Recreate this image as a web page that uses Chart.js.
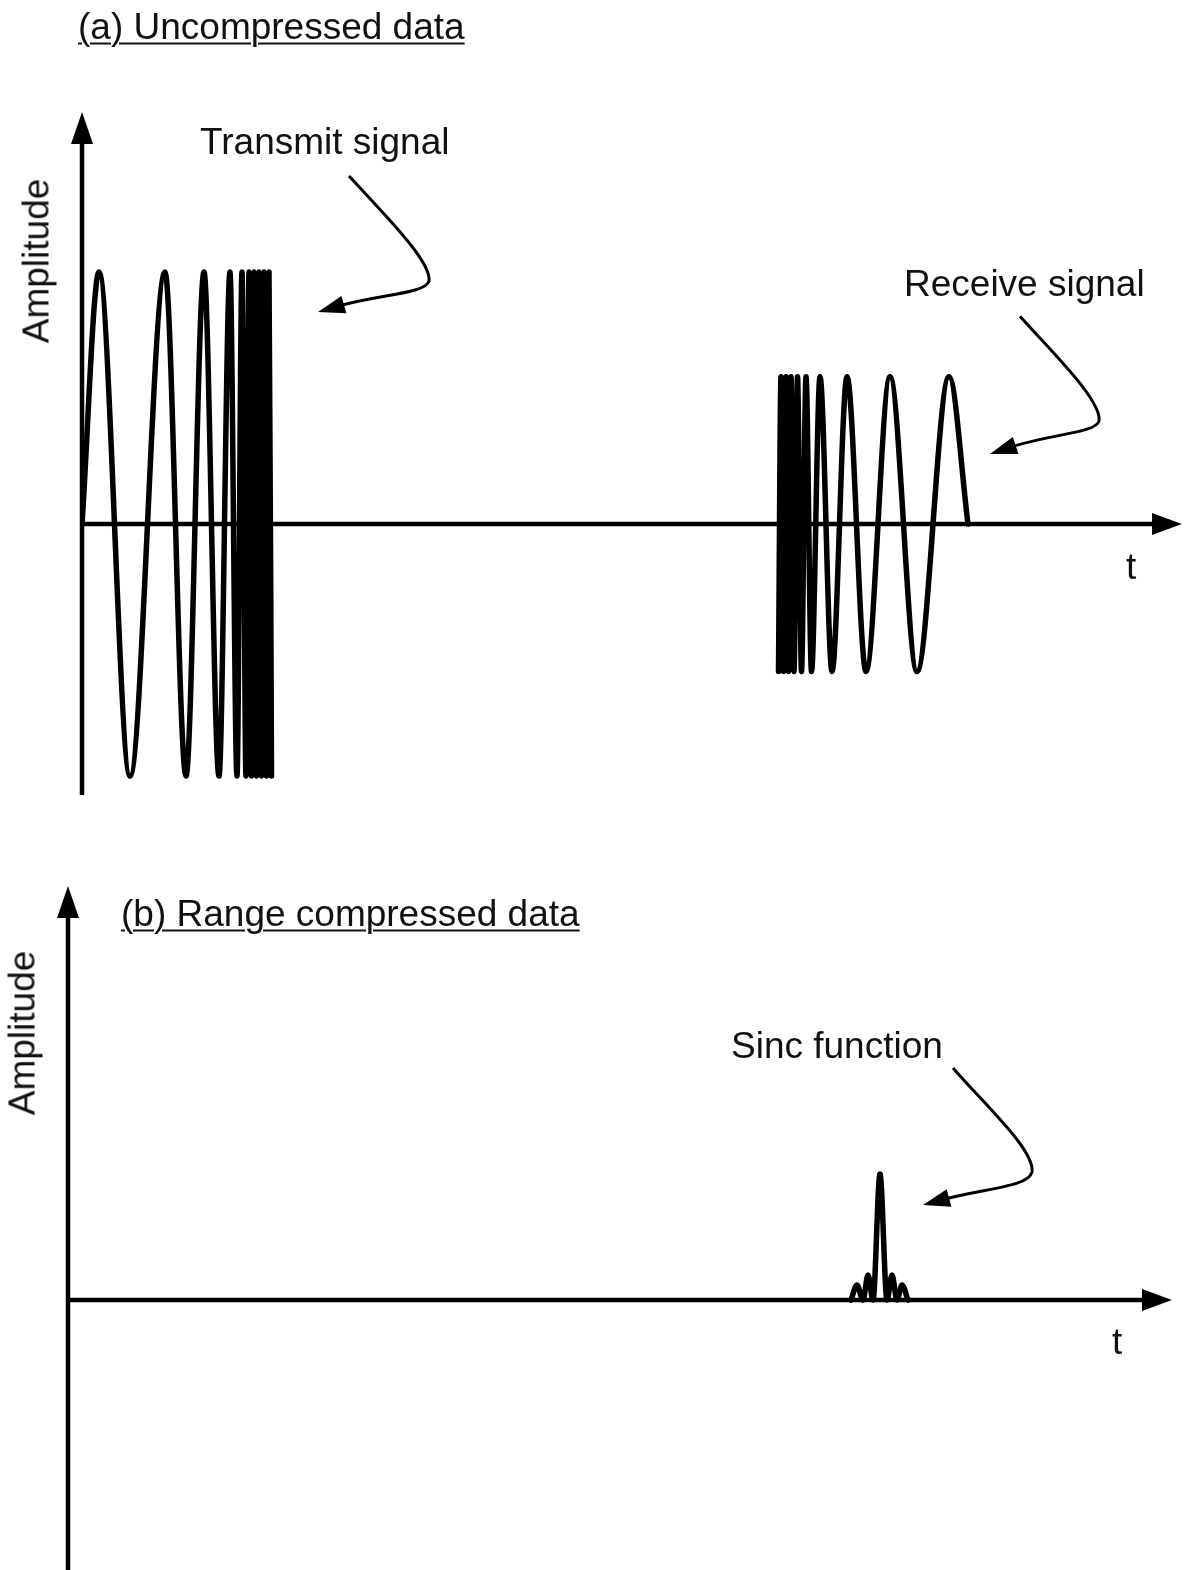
<!DOCTYPE html>
<html>
<head>
<meta charset="utf-8">
<script src="https://cdn.jsdelivr.net/npm/chart.js@4.4.1/dist/chart.umd.min.js"></script>
<style>
  html, body { margin: 0; padding: 0; background: #fff; }
  body { width: 1188px; height: 1570px; position: relative; overflow: hidden;
         font-family: "Liberation Sans", Arial, sans-serif; color: #111; }
  canvas { position: absolute; left: 0; }
  #chartA { top: 0; }
  #chartB { top: 850px; }
  .lbl { position: absolute; font-size: 37px; line-height: 1; white-space: nowrap; transform: translateY(-50%); }
  .title { text-decoration: underline; text-decoration-thickness: 2px; text-underline-offset: 4px; }
  .ylab { transform: translate(-50%, -50%) rotate(-90deg); }
</style>
</head>
<body>
<canvas id="chartA" width="1188" height="830"></canvas>
<canvas id="chartB" width="1188" height="720"></canvas>

<div class="lbl title" style="left:78px; top:26px;">(a) Uncompressed data</div>
<div class="lbl ylab" style="left:36px; top:261px;">Amplitude</div>
<div class="lbl" style="left:200px; top:141px;">Transmit signal</div>
<div class="lbl" style="left:904px; top:283px;">Receive signal</div>
<div class="lbl" style="left:1126px; top:566px;">t</div>

<div class="lbl title" style="left:121px; top:913px;">(b) Range compressed data</div>
<div class="lbl ylab" style="left:22px; top:1033px;">Amplitude</div>
<div class="lbl" style="left:731px; top:1045px;">Sinc function</div>
<div class="lbl" style="left:1112px; top:1341px;">t</div>

<script>
// chirp extrema (t, amplitude); t = 0 at the vertical axis
const transmitT = [0, 17, 48, 83, 104, 122, 137, 148, 155, 160, 164, 167, 169.5, 172, 174.5, 177, 179.5, 182, 184.5, 187, 189.5];
const transmitA = [0, 1, -1, 1, -1, 1, -1, 1, -1, 1, -1, 1, -1, 1, -1, 1, -1, 1, -1, 1, -1];

// echo: reversed chirp, smaller amplitude
const receiveT = [696.5, 699, 701.5, 704, 706.5, 709, 712, 715.5, 719.5, 724, 729.5, 738, 750, 765, 784, 808, 835, 867, 886];
const receiveA = [-0.585, 0.585, -0.585, 0.585, -0.585, 0.585, -0.585, 0.585, -0.585, 0.585, -0.585, 0.585, -0.585, 0.585, -0.585, 0.585, -0.585, 0.585, 0];

// compressed pulse: |sinc| lobes
const sincT = [783, 789, 795, 800, 805, 812, 819, 824, 829, 834, 840];
const sincA = [0, 0.06, 0, 0.1, 0, 0.5, 0, 0.1, 0, 0.06, 0];

// callout arrows: start, c1, c2, bend, c3, c4, tip  (t, amplitude)
const transmitCallout = [[267, 1.381], [303, 1.226], [350, 1.040], [347, 0.964], [343, 0.913], [298, 0.913], [236, 0.841]];
const receiveCallout = [[938, 0.825], [968, 0.690], [1020, 0.492], [1017, 0.409], [1014, 0.361], [968, 0.357], [908, 0.278]];
const sincCallout = [[885, 0.921], [917, 0.774], [967, 0.595], [964, 0.508], [960, 0.448], [917, 0.444], [855, 0.377]];

const toPoints = (ts, as) => ts.map((t, i) => ({ x: t, y: as[i] }));

function head(ctx, tipX, tipY, fromX, fromY, len, half) {
  const ang = Math.atan2(tipY - fromY, tipX - fromX);
  const bx = tipX - len * Math.cos(ang), by = tipY - len * Math.sin(ang);
  ctx.beginPath();
  ctx.moveTo(tipX, tipY);
  ctx.lineTo(bx + half * Math.sin(ang), by - half * Math.cos(ang));
  ctx.lineTo(bx - half * Math.sin(ang), by + half * Math.cos(ang));
  ctx.closePath();
  ctx.fill();
  return [bx, by];
}

// axes with arrowheads plus curved callout arrows
const axesPlugin = {
  id: 'axes',
  beforeDatasetsDraw(chart) {
    const { ctx, scales: { x, y } } = chart;
    const x0 = x.getPixelForValue(0), y0 = y.getPixelForValue(0);
    const xEnd = x.getPixelForValue(x.max), yTop = y.getPixelForValue(y.max), yBot = y.getPixelForValue(y.min);
    ctx.save();
    ctx.strokeStyle = '#000';
    ctx.fillStyle = '#000';
    ctx.lineWidth = 4.5;
    ctx.beginPath();
    ctx.moveTo(x0, y0);
    ctx.lineTo(xEnd - 20, y0);
    ctx.moveTo(x0, yBot);
    ctx.lineTo(x0, yTop + 20);
    ctx.stroke();
    head(ctx, xEnd, y0, x0, y0, 30, 11);
    head(ctx, x0, yTop, x0, yBot, 32, 11);
    ctx.restore();
  },
  afterDatasetsDraw(chart, args, opts) {
    const { ctx, scales: { x, y } } = chart;
    ctx.save();
    ctx.strokeStyle = '#000';
    ctx.fillStyle = '#000';
    ctx.lineWidth = 3;
    (opts.callouts || []).forEach(c => {
      const p = c.map(([t, a]) => [x.getPixelForValue(t), y.getPixelForValue(a)]);
      const tip = p[6], c4 = p[5];
      const ang = Math.atan2(tip[1] - c4[1], tip[0] - c4[0]);
      const base = [tip[0] - 22 * Math.cos(ang), tip[1] - 22 * Math.sin(ang)];
      ctx.beginPath();
      ctx.moveTo(p[0][0], p[0][1]);
      ctx.bezierCurveTo(p[1][0], p[1][1], p[2][0], p[2][1], p[3][0], p[3][1]);
      ctx.bezierCurveTo(p[4][0], p[4][1], p[5][0], p[5][1], base[0], base[1]);
      ctx.stroke();
      head(ctx, tip[0], tip[1], c4[0], c4[1], 27, 9);
    });
    ctx.restore();
  }
};

const lineStyle = {
  borderColor: '#000',
  borderWidth: 5.5,
  pointRadius: 0,
  fill: false,
  cubicInterpolationMode: 'monotone',
  borderJoinStyle: 'round',
  borderCapStyle: 'round'
};

function makeChart(id, datasets, xMax, yMin, yMax, padding, callouts) {
  return new Chart(document.getElementById(id), {
    type: 'line',
    data: { datasets: datasets.map(d => ({ ...lineStyle, data: d })) },
    options: {
      responsive: false,
      animation: false,
      devicePixelRatio: 1,
      layout: { padding },
      scales: {
        x: { type: 'linear', display: false, min: 0, max: xMax },
        y: { type: 'linear', display: false, min: yMin, max: yMax }
      },
      plugins: { legend: { display: false }, tooltip: { enabled: false }, axes: { callouts } }
    },
    plugins: [axesPlugin]
  });
}

makeChart('chartA',
  [toPoints(transmitT, transmitA), toPoints(receiveT, receiveA)],
  1100, -1.075, 1.635,
  { left: 82, right: 6, top: 112, bottom: 35 },
  [transmitCallout, receiveCallout]);

makeChart('chartB',
  [toPoints(sincT, sincA)],
  1104, -1.071, 1.643,
  { left: 68, right: 16, top: 36, bottom: 0 },
  [sincCallout]);
</script>
</body>
</html>
